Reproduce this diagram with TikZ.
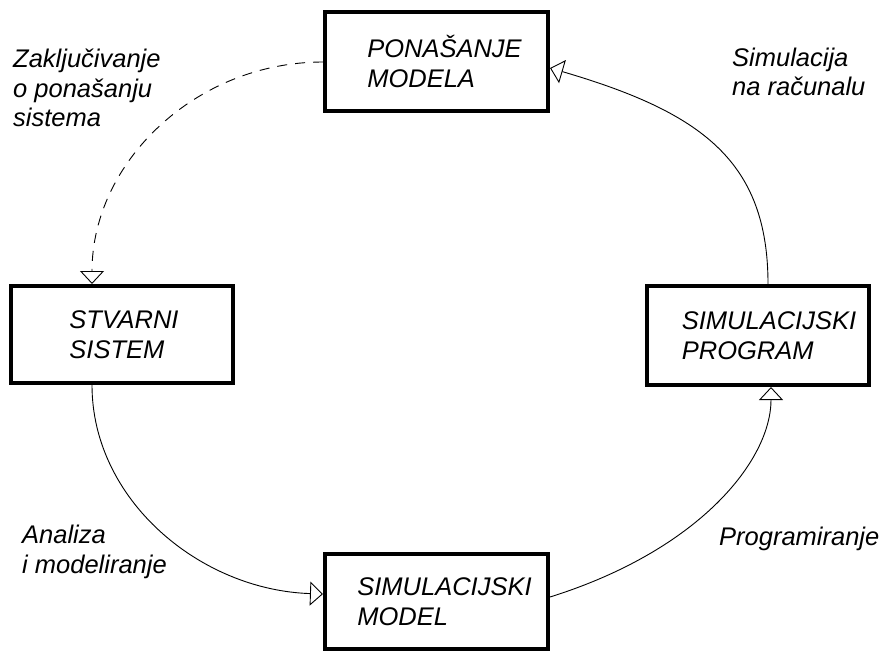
\documentclass[tikz,border=0pt]{standalone}
\usepackage{fontspec}
\setmainfont{Liberation Sans}
\usetikzlibrary{arrows.meta}
\begin{document}
\begin{tikzpicture}[x=1pt,y=-1pt,
  box/.style={draw=black, line width=4pt, rectangle, inner sep=0pt,
    align=left, font=\fontsize{25.5}{30}\selectfont\itshape},
  lbl/.style={inner sep=0pt, align=left, anchor=base west,
    font=\fontsize{25.5}{29.5}\selectfont\itshape},
  conn/.style={line width=0.9pt, -{Triangle[open, length=13pt, width=24pt, fill=white, line width=0.9pt]}},
  dashconn/.style={conn, dash pattern=on 10pt off 8pt}]
\useasboundingbox (0,0) rectangle (882,655);
\node[box, minimum width=223pt, minimum height=99pt] (pon) at (436.5,61.5) {\hspace*{16pt}PONAŠANJE\\\hspace*{16pt}MODELA};
\node[box, minimum width=222pt, minimum height=97pt] (stv) at (122,334.5) {\hspace*{4pt}STVARNI\\\hspace*{4pt}SISTEM};
\node[box, minimum width=223pt, minimum height=95pt] (mod) at (436.5,601.5) {\hspace*{16pt}SIMULACIJSKI\\\hspace*{16pt}MODEL};
\node[box, minimum width=222pt, minimum height=99pt] (prog) at (758,335.5) {\hspace*{22pt}SIMULACIJSKI\\\hspace*{22pt}PROGRAM};

\node[lbl] (l1) at (13,127) {Zaključivanje\\o ponašanju\\sistema};
\node[lbl] (l2) at (732,96) {Simulacija\\na računalu};
\node[lbl] (l3) at (22,573) {Analiza\\i modeliranje};
\node[lbl] (l4) at (719,545) {Programiranje};

\coordinate (p1) at (pon.west |- 0,62);
\coordinate (s1) at (stv.north -| 92,0);
\coordinate (s2) at (stv.south -| 92,0);
\coordinate (m1) at (mod.west |- 0,594);
\coordinate (m2) at (mod.east |- 0,597);
\coordinate (r1) at (prog.south -| 771,0);
\coordinate (r2) at (prog.north -| 768,0);
\coordinate (p2) at (pon.east |- 0,68);

\draw[dashconn] (p1) .. controls (196,62) and (92,162) .. (s1);
\draw[conn] (s2) .. controls (92,500) and (200,590) .. (m1);
\draw[conn] (m2) .. controls (700,550) and (771,460) .. (r1);
\draw[conn] (r2) .. controls (768,160) and (700,112) .. (p2);
\end{tikzpicture}
\end{document}
